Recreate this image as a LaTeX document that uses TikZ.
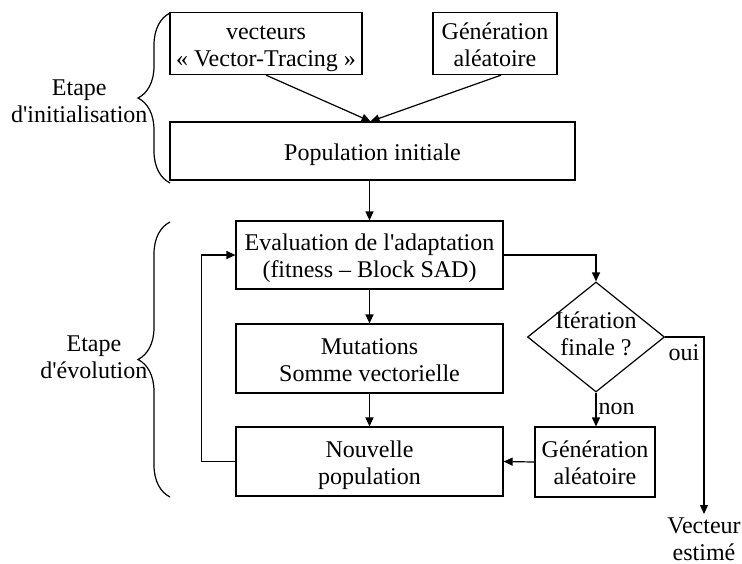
\documentclass[tikz,border=0pt]{standalone}
\usepackage{fontspec}
\setmainfont{Liberation Serif}
\usetikzlibrary{arrows.meta,shapes.geometric,decorations.pathreplacing}
\newcommand{\hautligne}{\rule{0pt}{13.5pt}}
\tikzset{
     bloc/.style={draw, align=center, inner sep=0pt, font=\fontsize{12}{13.5}\selectfont,
          execute at end node={\strut}},
     losange/.style={draw, diamond, inner sep=0pt, minimum width=68.5pt, minimum height=55pt},
     texte/.style={align=center, inner sep=0pt, font=\fontsize{12}{13.5}\selectfont,
          execute at end node={\strut}},
     fleche/.style={-{Triangle[length=4.5pt,width=4pt]}},
     accolade/.style={decorate, decoration={brace, amplitude=16pt}}
}

\begin{document}
\begin{tikzpicture}[x=0.5pt, y=-0.5pt, line width=0.6pt]
     \useasboundingbox (0,0) rectangle (742,563);
     % Etape d'initialisation.
     \node [bloc, minimum width=96pt, minimum height=28.5pt] (vect) at (266,43.5) {\hautligne vecteurs\\« Vector-Tracing »};
     \node [bloc, minimum width=62pt, minimum height=28.5pt] (gen1) at (495,43.5) {\hautligne Génération\\aléatoire};
     \node [bloc, minimum width=202.5pt, minimum height=29pt] (pop) at (372.5,151) {\hautligne Population initiale};
     \draw [fleche] (vect.south) -- ([xshift=-1pt]pop.north);
     \draw [fleche] ([xshift=3pt]gen1.south) -- ([xshift=-1pt]pop.north);
     % Etape d'evolution.
     \node [bloc, minimum width=133.5pt, minimum height=34pt] (eval) at (369.5,255) {\hautligne Evaluation de l\textquotesingle adaptation\\(fitness – Block SAD)};
     \node [bloc, minimum width=133.5pt, minimum height=34.5pt] (mut) at (369.5,358.5) {\hautligne Mutations\\Somme vectorielle};
     \node [bloc, minimum width=133.5pt, minimum height=34.5pt] (nouv) at (369.5,461.5) {\hautligne Nouvelle\\population};
     \node [losange] (iter) at (596,337) {};
      \node [texte] (iterlbl) at (iter) {\strut Itération\\finale ?};
     \node [bloc, minimum width=60pt, minimum height=35pt] (gen2) at (595,462) {\hautligne Génération\\aléatoire};
     \node [texte, anchor=north] (vecteur) at (704,514) {\strut Vecteur\\estimé};
     \draw [fleche] (pop.south -| eval.north) -- (eval.north);
     \draw [fleche] (eval.south) -- (mut.north);
     \draw [fleche] (mut.south) -- (nouv.north);
     \draw [fleche] (eval.east) -| (iter.north);
     \draw [fleche] (iter.south) -- node [texte, right, inner sep=1pt] {non} (iter.south |- gen2.north);
     \draw [fleche] (iter.east) -| node [texte, pos=0.5, anchor=north east, inner sep=2pt] {oui} (vecteur.north);
     \draw [fleche] (gen2.west) -- (nouv.east);
     \draw [fleche] (nouv.west) -- ++(-34,0) |- (eval.west);
     % Accolades.
     \draw [accolade] (170,183) -- (170,13);
      \node [texte, anchor=east] (init) at (148,104) {\strut Etape\\d\textquotesingle initialisation};
     \draw [accolade] (170,497) -- (170,222);
      \node [texte, anchor=east] (evol) at (148,360) {\strut Etape\\d\textquotesingle évolution};
\end{tikzpicture}
\end{document}
